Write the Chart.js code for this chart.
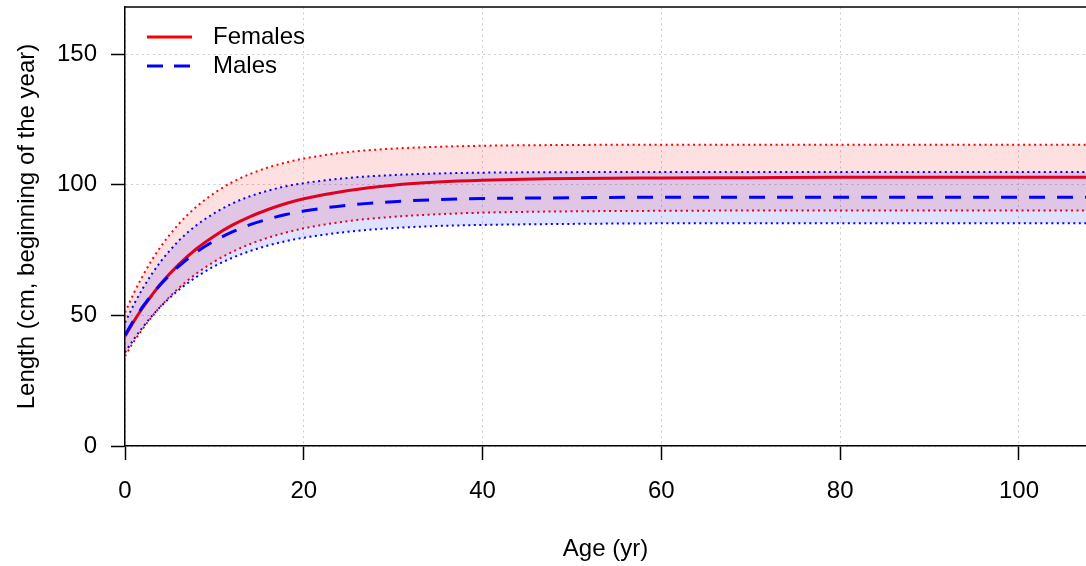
<!DOCTYPE html>
<html>
<head>
<meta charset="utf-8">
<script src="https://cdn.jsdelivr.net/npm/chart.js@4.4.0/dist/chart.umd.min.js"></script>
<style>
html,body{margin:0;padding:0;background:#fff;}
#wrap{width:1086px;height:566px;position:relative;}
</style>
</head>
<body>
<div id="wrap"><canvas id="growth"></canvas></div>
<script>
const ages=[0,1,2,3,4,6,8,10,12,14,16,18,20,25,30,35,40,50,60,70,80,90,100,110];

// females: mean length and band
const femMean=[42.0,47.8,53.0,57.7,62.1,69.4,75.5,80.4,84.5,87.8,90.5,92.8,94.6,97.8,99.8,101.0,101.7,102.4,102.6,102.7,102.8,102.8,102.8,102.8];
const femHi=[51.0,58.6,65.2,71.1,76.3,84.9,91.6,96.8,101.0,104.1,106.6,108.5,110.0,112.5,113.8,114.5,114.9,115.2,115.3,115.3,115.3,115.3,115.3,115.3];
const femLo=[34.4,40.0,44.9,49.4,53.5,60.4,66.0,70.6,74.3,77.3,79.7,81.7,83.3,86.1,87.7,88.7,89.3,89.8,90.0,90.1,90.1,90.1,90.1,90.1];

// males: mean length and band
const maleMean=[42.5,48.2,53.4,57.9,61.9,68.7,74.2,78.5,81.9,84.7,86.8,88.6,89.9,92.2,93.5,94.3,94.7,95.0,95.2,95.2,95.2,95.2,95.2,95.2];
const maleHi=[47.2,54.2,60.4,65.8,70.6,78.5,84.5,89.1,92.8,95.6,97.7,99.4,100.6,102.6,103.7,104.3,104.6,104.8,104.9,104.9,104.9,104.9,104.9,104.9];
const maleLo=[35.8,40.9,45.5,49.7,53.4,59.7,64.7,68.8,72.0,74.6,76.7,78.4,79.7,82.0,83.4,84.2,84.6,85.0,85.2,85.2,85.2,85.2,85.2,85.2];

const keyLabels=['Females','Males'];

const RED='#ff0000',BLUE='#0000ff';
const FONT="'Liberation Sans', Arial, sans-serif";

function pts(vals){
return ages.map((a,i)=>({x:a,y:vals[i]}));
}

function curve(vals,color,kind,fill){
const ds={
data:pts(vals),
borderColor:color,
pointRadius:0,
cubicInterpolationMode:'monotone',
fill:fill||false
};
if(kind==='mean'){
ds.borderWidth=3;
}else{
ds.borderWidth=2;
ds.borderDash=[2,3.5];
}
return ds;
}

// dataset 0 is drawn last, so males sit on top of females
const maleMeanDs=curve(maleMean,BLUE,'mean');
maleMeanDs.borderDash=[16,12];

const datasets=[
maleMeanDs,
curve(maleLo,BLUE,'band'),
Object.assign(curve(maleHi,BLUE,'band','-1'),{backgroundColor:'rgba(0,0,255,0.12)'}),
curve(femMean,RED,'mean'),
curve(femLo,RED,'band'),
Object.assign(curve(femHi,RED,'band','-1'),{backgroundColor:'rgba(255,0,0,0.12)'})
];

const frameAndKey={
id:'frameAndKey',
afterDraw(chart){
const {ctx,chartArea:a}=chart;
ctx.save();
ctx.strokeStyle='#000';
ctx.lineWidth=1.5;
ctx.beginPath();
ctx.moveTo(a.left,a.top);
ctx.lineTo(a.right,a.top);
ctx.stroke();

const styles=[{color:RED,dash:[]},{color:BLUE,dash:[16,11]}];
keyLabels.forEach((lab,i)=>{
const y=a.top+30+i*29;
ctx.strokeStyle=styles[i].color;
ctx.lineWidth=3;
ctx.setLineDash(styles[i].dash);
ctx.beginPath();
ctx.moveTo(a.left+22,y);
ctx.lineTo(a.left+67,y);
ctx.stroke();
ctx.setLineDash([]);
ctx.fillStyle='#000';
ctx.font='24px '+FONT;
ctx.textBaseline='middle';
ctx.textAlign='left';
ctx.fillText(lab,a.left+88,y);
});
ctx.restore();
}
};

Chart.defaults.font.family=FONT;
Chart.defaults.font.size=24;
Chart.defaults.color='#000';

new Chart(document.getElementById('growth'),{
type:'line',
data:{datasets:datasets},
plugins:[frameAndKey],
options:{
responsive:true,
maintainAspectRatio:false,
animation:false,
layout:{padding:{top:7,right:0,left:0,bottom:0}},
plugins:{
legend:{display:false},
tooltip:{enabled:false},
filler:{drawTime:'beforeDatasetDraw'}
},
scales:{
x:{
type:'linear',
min:0,
max:107.5,
ticks:{stepSize:20,includeBounds:false,padding:17,maxRotation:0},
grid:{color:'#cccccc',tickColor:'#000',tickLength:14,tickWidth:1.5},
border:{display:true,color:'#000',width:1.5,dash:[2,3.5]},
title:{display:true,text:'Age (yr)',padding:{top:0,bottom:2.6}},
afterFit(s){s.height=120;s.paddingLeft=0;s.paddingRight=0;}
},
y:{
min:0,
max:168,
ticks:{stepSize:50,includeBounds:false,padding:14},
grid:{color:'#cccccc',tickColor:'#000',tickLength:14,tickWidth:1.5},
border:{display:true,color:'#000',width:1.5,dash:[2,3.5]},
title:{display:true,text:'Length (cm, beginning of the year)',padding:{top:12.6,bottom:0}},
afterFit(s){s.width=125;s.paddingTop=0;s.paddingBottom=0;}
}
}
}
});
</script>
</body>
</html>
